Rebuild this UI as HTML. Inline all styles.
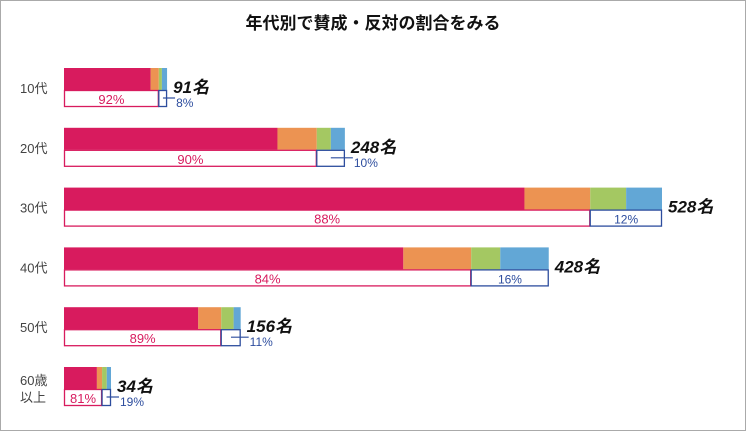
<!DOCTYPE html>
<html><head><meta charset="utf-8"><style>
body{margin:0;background:#fff}
svg text{font-family:"Liberation Sans","Noto Sans CJK JP",sans-serif}
</style></head><body>
<svg width="746" height="431" viewBox="0 0 746 431">
<rect x="0.5" y="0.5" width="745" height="430" fill="#fff" stroke="#aaa"/>
<text x="373" y="29" text-anchor="middle" font-size="17" font-weight="bold" fill="#111">年代別で賛成・反対の割合をみる</text>
<g id="bars"></g>
</svg>
<script>
const categories=["10代","20代","30代","40代","50代","60歳以上"];
const totals=[91,248,528,428,156,34];
const agree=[84,76,77,70,76,70];
const slightAgree=[8,14,11,14,13,11];
const slightDisagree=[3,5,6,6,7,10];
const disagree=[5,5,6,10,4,9];
const agreeLabels=["92%","90%","88%","84%","89%","81%"];
const disagreeLabels=["8%","10%","12%","16%","11%","19%"];
const NS="http://www.w3.org/2000/svg";
const g=document.getElementById('bars');
const x0=64, maxW=598, maxT=528;
function xw(t){return Math.max(t/maxT*maxW,47);}
function rowY(i){return 68+i*59.8;}
function mk(tag,attrs,txt){const e=document.createElementNS(NS,tag);for(const k in attrs)e.setAttribute(k,attrs[k]);if(txt!=null)e.textContent=txt;g.appendChild(e);return e;}
const colors=["#d81b5e","#ec9352","#a4c862","#62a7d6"];
categories.forEach((c,i)=>{
  const y=rowY(i), W=xw(totals[i]);
  const vals=[agree[i],slightAgree[i],slightDisagree[i],disagree[i]];
  const sum=vals.reduce((a,b)=>a+b,0);
  let x=x0;
  const segNames=['agree','slight-agree','slight-disagree','disagree'];
  vals.forEach((v,j)=>{const w=v/sum*W;const r=mk('rect',{x:x,y:y,width:w,height:22,fill:colors[j]});
    
    x+=w;});
  const split=x0+(vals[0]+vals[1])/sum*W, end=x0+W;
  const b1=mk('rect',{x:x0+0.5,y:y+22.5,width:split-x0-1,height:16,fill:'none',stroke:'#d81b5e','stroke-width':1.3});
  
  
  const b2=mk('rect',{x:split,y:y+22.5,width:end-split-0.5,height:16,fill:'none',stroke:'#2d4d9e','stroke-width':1.3});
  
  
  const t1=mk('text',{x:(x0+split)/2,y:y+36,'text-anchor':'middle','font-size':13,fill:'#d81b5e'},agreeLabels[i]);
  
  
  let t2;
  if(end-split>30){
    t2=mk('text',{x:(split+end)/2,y:y+36,'text-anchor':'middle','font-size':12,fill:'#2d4d9e'},disagreeLabels[i]);
  }else{
    mk('line',{x1:(split+end)/2,y1:y+30,x2:end+8,y2:y+30,stroke:'#2d4d9e','stroke-width':1.2});
    t2=mk('text',{x:end+9,y:y+39,'font-size':12,fill:'#2d4d9e'},disagreeLabels[i]);
  }
  
  
  const tt=mk('text',{x:end+6,y:y+25,'font-size':17,'font-weight':'bold','font-style':'italic',fill:'#111'},totals[i]+'名');
  
  
  let cl;
  if(c.length>3){
    cl=mk('text',{x:20,y:y+18,'font-size':13,fill:'#444'});
    const s1=document.createElementNS(NS,'tspan');s1.setAttribute('x',20);s1.textContent=c.slice(0,3);cl.appendChild(s1);
    const s2=document.createElementNS(NS,'tspan');s2.setAttribute('x',20);s2.setAttribute('dy',17);s2.textContent=c.slice(3);cl.appendChild(s2);
  }else{
    cl=mk('text',{x:20,y:y+25,'font-size':13,fill:'#444'},c);
  }
  
  
});
</script>
</body></html>
